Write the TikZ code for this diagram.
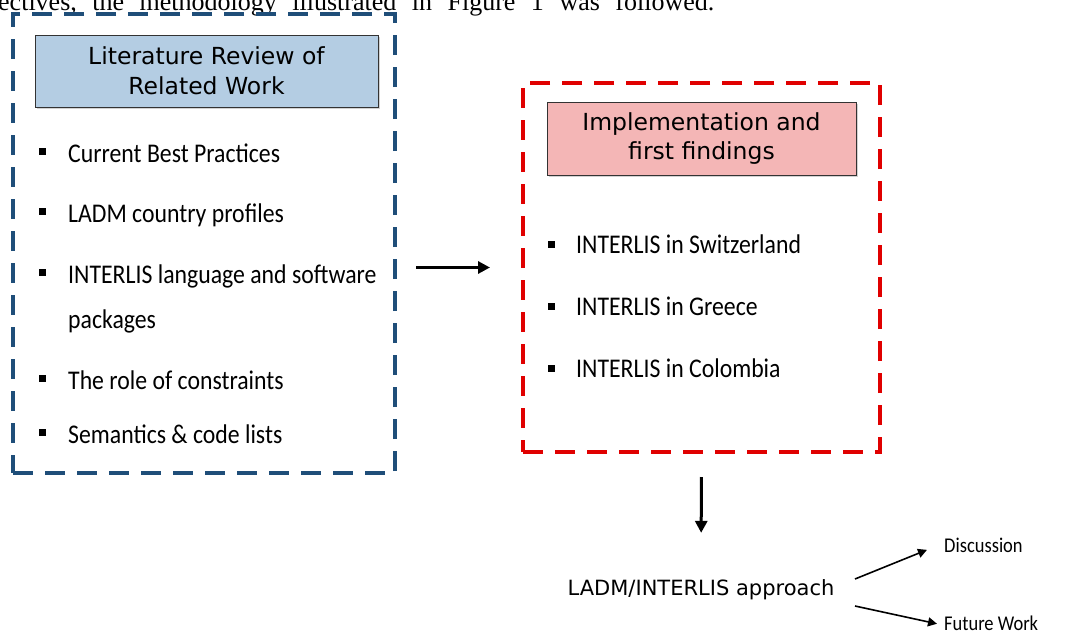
\documentclass[tikz,border=0pt]{standalone}
\usepackage{fontspec}
\setmainfont{Liberation Serif}
\newfontfamily\hdfont{DejaVu Sans}
\newfontfamily\itfont[FakeStretch=0.88]{Carlito}
\usetikzlibrary{arrows.meta,shadows}
\definecolor{dblue}{HTML}{1F4E79}
\definecolor{dred}{HTML}{E00000}
\definecolor{lblue}{HTML}{B4CDE3}
\definecolor{lred}{HTML}{F4B6B6}
\tikzset{
  bluebox/.style={draw=dblue, line width=4pt, dash pattern=on 20pt off 12pt, inner sep=0, outer sep=0},
  redbox/.style={draw=dred, line width=4pt, dash pattern=on 20pt off 12pt, inner sep=0, outer sep=0},
  header/.style={draw=black!80, line width=1pt, align=center, inner sep=0,
    font=\hdfont\fontsize{23.5}{30}\selectfont,
    drop shadow={shadow xshift=1.5pt, shadow yshift=-1.5pt, opacity=0.35}},
  item/.style={anchor=base west, inner sep=0, font=\itfont\fontsize{27}{30}\selectfont},
  bul/.style={fill=black, minimum size=7pt, inner sep=0, outer sep=0},
  arr/.style={-{Triangle[length=12pt,width=12pt]}, line width=3pt},
  sarr/.style={-{Triangle[length=9pt,width=9pt]}, line width=1.6pt},
  plain/.style={inner sep=0}
}
\begin{document}
\begin{tikzpicture}[x=1pt,y=-1pt]
\useasboundingbox (0,0) rectangle (1088,635);
\clip (0,0) rectangle (1088,635);
\fill[white] (0,0) rectangle (1088,635);
% cropped line of text at top
\node[plain, anchor=base west, font=\fontsize{26}{30}\selectfont] (top) at (-2,10) {\spaceskip=15.5pt ectives, the methodology illustrated in Figure 1 was followed.};
% left box
\node[bluebox, minimum width=382pt, minimum height=459pt] (lit) at (204,243.5) {};
\node[header, fill=lblue, minimum width=343pt, minimum height=72pt] (lith) at (206.5,71) {Literature Review of\\Related Work};
\foreach \n/\yy/\t in {a/162/Current Best Practices, b/222/LADM country profiles, c/283/INTERLIS language and software, e/389/The role of constraints, f/443/Semantics \& code lists}{
  \node[bul] (lb\n) at (42.5,\yy-10.5) {};
  \node[item] (li\n) at (68,\yy) {\t};
}
\node[item] (lid) at (68,328) {packages};
% right box
\node[redbox, minimum width=357pt, minimum height=369pt] (impl) at (701.5,267.5) {};
\node[header, fill=lred, minimum width=309pt, minimum height=73pt, font=\hdfont\fontsize{23.5}{29}\selectfont] (implh) at (701.5,138.5) {Implementation and\\first findings};
\foreach \n/\yy/\t in {a/253/Switzerland, b/315/Greece, c/377/Colombia}{
  \node[bul] (rb\n) at (551,\yy-9) {};
  \node[item] (ri\n) at (576,\yy) {INTERLIS in \t};
}
% approach
\node[plain, anchor=base, font=\hdfont\fontsize{21}{24}\selectfont] (appr) at (701,595) {LADM/INTERLIS approach};
\node[plain, anchor=base west, font=\itfont\fontsize{21}{24}\selectfont] (disc) at (944,552) {Discussion};
\node[plain, anchor=base west, font=\itfont\fontsize{21}{24}\selectfont] (fut) at (944,630) {Future Work};
% arrows
\draw[arr, shorten <=21pt, shorten >=33pt] (lit.east |- impl.west) -- (impl.west);
\draw[arr, shorten <=25pt, shorten >=46pt] (impl.south) -- (appr.north);
\coordinate (d1) at (855,579);
\coordinate (d2) at (855,606);
\draw[sarr] (d1) -- ([xshift=-17pt,yshift=-5pt]disc.west);
\draw[sarr] (d2) -- ([xshift=-7pt,yshift=-1pt]fut.west);
\end{tikzpicture}
\end{document}
